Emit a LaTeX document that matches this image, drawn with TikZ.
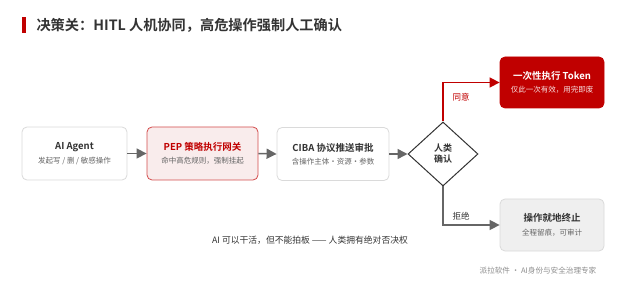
\documentclass[tikz,border=0pt]{standalone}
\usepackage{fontspec}
\setmainfont{Noto Sans CJK SC}[BoldFont={Noto Sans CJK SC Bold}]
\usetikzlibrary{arrows.meta,shapes.geometric}
\definecolor{cred}{HTML}{C00000}
\definecolor{cpink}{HTML}{F9ECEC}
\definecolor{cborder}{HTML}{DADADA}
\definecolor{cgrayfill}{HTML}{EFEFEF}
\definecolor{cdark}{HTML}{333333}
\definecolor{csub}{HTML}{666666}
\definecolor{cline}{HTML}{666666}
\begin{document}
\begin{tikzpicture}[x=1pt,y=-1pt,
  box/.style={draw=cborder,line width=0.8pt,rounded corners=5pt,fill=white,minimum width=105pt,minimum height=53pt,inner sep=0pt},
  ttl/.style={font=\fontsize{9.5}{11}\selectfont\bfseries,text=cdark},
  sub/.style={font=\fontsize{7.5}{9}\selectfont,text=csub},
  conn/.style={draw=cline,line width=1.5pt,-{Triangle[length=10pt,width=10pt]}},
  lbl/.style={font=\fontsize{8.5}{10}\selectfont}]
\useasboundingbox (0,0) rectangle (620,288);
\fill[cred] (22,17) rectangle (25.5,33);
\node[anchor=west,font=\fontsize{14.2}{16}\selectfont\bfseries,text=cdark] (title) at (33,25) {决策关：HITL 人机协同，高危操作强制人工确认};

\node[box] (agent) at (74.5,153.5) {};
\node[ttl] (agentT) at (74.5,147) {AI Agent};
\node[sub] (agentS) at (74.5,161) {发起写 / 删 / 敏感操作};

\node[box,draw=cred!70,fill=cpink,minimum width=111pt] (pep) at (202.5,153.5) {};
\node[ttl,text=cred] (pepT) at (202.5,147) {PEP 策略执行网关};
\node[sub] (pepS) at (202.5,161) {命中高危规则，强制挂起};

\node[box,minimum width=112pt] (ciba) at (333,154) {};
\node[ttl] (cibaT) at (333,147.5) {CIBA 协议推送审批};
\node[sub] (cibaS) at (333,161.5) {含操作主体・资源・参数};

\node[diamond,draw=cdark,line width=1pt,fill=white,minimum width=70pt,minimum height=64pt,inner sep=0pt,aspect=1.1,
  font=\fontsize{9}{11}\selectfont\bfseries,text=cdark,align=center] (dia) at (443,154) {人类\\确认};

\node[box,draw=cred,fill=cred,minimum width=104pt,minimum height=51pt] (tok) at (552,82.5) {};
\node[ttl,text=white] (tokT) at (552,76) {一次性执行 Token};
\node[sub,text=white!88!cred] (tokS) at (552,89.5) {仅此一次有效，用完即废};

\node[box,fill=cgrayfill,minimum width=104pt,minimum height=52pt] (term) at (552,225) {};
\node[ttl] (termT) at (552,217.5) {操作就地终止};
\node[sub] (termS) at (552,232.5) {全程留痕，可审计};

\draw[conn] (agent.east) -- (pep.west);
\draw[conn] (pep.east) -- (ciba.west);
\draw[conn] (ciba.east) -- (dia.west);
\draw[conn,draw=cred] (dia.north) |- (tok.west);
\draw[conn] (dia.south) |- (term.west);

\node[lbl,text=cred] (yes) at (461,97) {同意};
\node[lbl,text=cdark] (no) at (461,216) {拒绝};

\node[font=\fontsize{8.8}{10}\selectfont,text=cdark] (motto) at (310,240.5) {AI 可以干活，但不能拍板 —— 人类拥有绝对否决权};
\node[font=\fontsize{7.6}{9}\selectfont,text=black!45] (foot) at (538,271) {派拉软件 ・ AI身份与安全治理专家};
\end{tikzpicture}
\end{document}
